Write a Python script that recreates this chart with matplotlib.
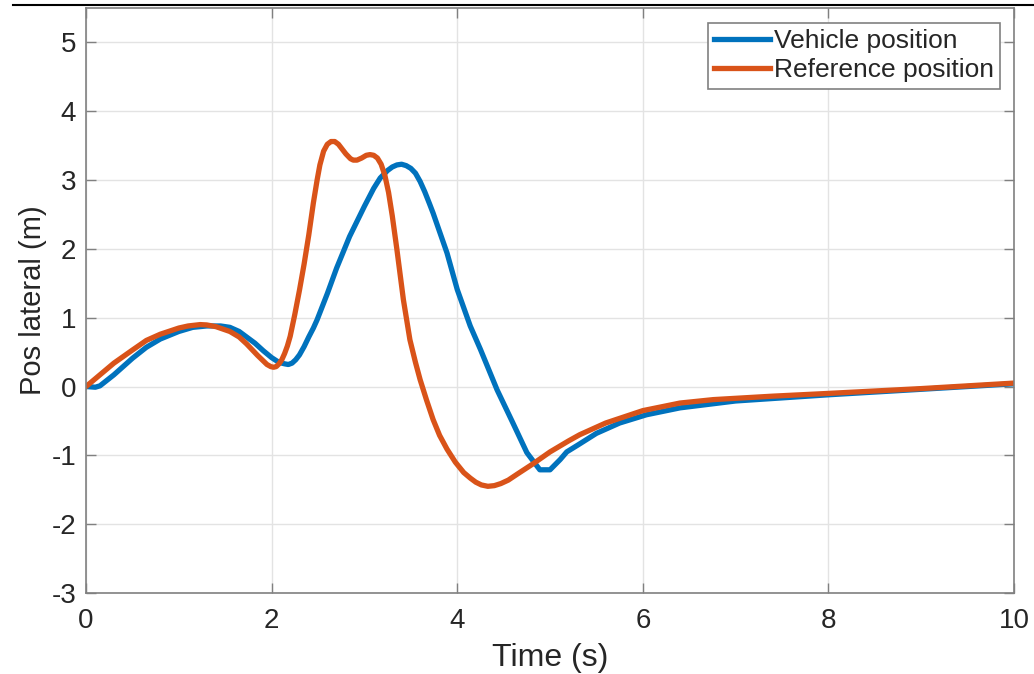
import matplotlib
matplotlib.use("Agg")
import matplotlib.pyplot as plt
from matplotlib.lines import Line2D

plt.rcParams["font.family"] = ["Liberation Sans", "DejaVu Sans"]
plt.rcParams["axes.unicode_minus"] = False

# vehicle lateral position (blue)
t_vehicle = [0.0, 0.1, 0.15, 0.3, 0.5, 0.65, 0.8, 1.0, 1.15, 1.3, 1.45, 1.55, 1.65,
             1.73, 1.82, 1.91, 2.0, 2.08, 2.14, 2.18, 2.22, 2.26, 2.3, 2.35, 2.4, 2.45,
             2.49, 2.6, 2.7, 2.84, 3.0, 3.1, 3.17, 3.25, 3.3, 3.35, 3.4, 3.45, 3.5, 3.55,
             3.6, 3.65, 3.7, 3.74, 3.89, 4.0, 4.14, 4.25, 4.43, 4.6, 4.75, 4.89, 5.0,
             5.11, 5.18, 5.3, 5.5, 5.75, 6.04, 6.4, 7.0, 8.0, 9.0, 10.0]
y_vehicle = [0.0, -0.01, 0.01, 0.17, 0.41, 0.57, 0.69, 0.80, 0.86, 0.88, 0.88, 0.86, 0.80,
             0.72, 0.63, 0.52, 0.42, 0.35, 0.33, 0.32, 0.34, 0.39, 0.46, 0.58, 0.72, 0.85,
             0.97, 1.35, 1.72, 2.18, 2.62, 2.88, 3.03, 3.14, 3.19, 3.22, 3.23, 3.21, 3.17,
             3.10, 2.98, 2.83, 2.66, 2.52, 1.94, 1.41, 0.88, 0.54, -0.05, -0.53, -0.96,
             -1.21, -1.21, -1.06, -0.95, -0.85, -0.68, -0.53, -0.41, -0.31, -0.21, -0.12,
             -0.04, 0.04]

# reference lateral position (orange)
t_ref = [0.0, 0.15, 0.3, 0.5, 0.65, 0.8, 1.0, 1.1, 1.23, 1.3, 1.4, 1.55, 1.65, 1.73, 1.85,
         1.95, 1.99, 2.02, 2.05, 2.08, 2.11, 2.14, 2.17, 2.2, 2.25, 2.3, 2.35, 2.4, 2.45,
         2.49, 2.52, 2.56, 2.6, 2.64, 2.68, 2.72, 2.76, 2.8, 2.85, 2.88, 2.92, 2.97, 3.02,
         3.06, 3.1, 3.14, 3.18, 3.22, 3.26, 3.3, 3.35, 3.42, 3.49, 3.55, 3.6, 3.67, 3.74,
         3.81, 3.89, 3.98, 4.07, 4.14, 4.2, 4.26, 4.33, 4.4, 4.47, 4.55, 4.65, 4.82, 5.0,
         5.2, 5.32, 5.6, 6.0, 6.4, 6.76, 7.4, 8.0, 9.0, 10.0]
y_ref = [0.0, 0.17, 0.34, 0.53, 0.67, 0.76, 0.85, 0.88, 0.90, 0.895, 0.87, 0.80, 0.72,
         0.62, 0.45, 0.32, 0.29, 0.28, 0.29, 0.33, 0.39, 0.48, 0.59, 0.73, 1.05, 1.40, 1.78,
         2.20, 2.67, 3.00, 3.22, 3.42, 3.52, 3.56, 3.56, 3.52, 3.45, 3.38, 3.31, 3.29, 3.29,
         3.32, 3.36, 3.37, 3.36, 3.32, 3.23, 3.07, 2.82, 2.48, 1.99, 1.26, 0.68, 0.35, 0.10,
         -0.20, -0.48, -0.71, -0.91, -1.10, -1.25, -1.33, -1.39, -1.43, -1.45, -1.44, -1.41,
         -1.36, -1.27, -1.12, -0.95, -0.79, -0.70, -0.53, -0.35, -0.24, -0.19, -0.14, -0.10,
         -0.03, 0.05]

x_ticks = [0, 2, 4, 6, 8, 10]
y_ticks = [-3, -2, -1, 0, 1, 2, 3, 4, 5]

fig = plt.figure(figsize=(10.34, 6.74), dpi=100)
ax = fig.add_axes([0.0832, 0.1202, 0.8975, 0.8679])

ax.plot(t_vehicle, y_vehicle, color="#0072BD", lw=3.8, label="Vehicle position",
        solid_joinstyle="round")
ax.plot(t_ref, y_ref, color="#D95319", lw=3.8, label="Reference position",
        solid_joinstyle="round")

ax.set_xlim(0, 10)
ax.set_ylim(-3, 5.5)
ax.set_xticks(x_ticks)
ax.set_yticks(y_ticks)
ax.grid(True, color="#e3e3e3", lw=1)
ax.set_axisbelow(True)

for s in ax.spines.values():
    s.set_color("#808080")
    s.set_linewidth(1.2)
ax.tick_params(direction="in", length=7, width=1, color="#808080",
               top=True, right=True, labelsize=20, labelcolor="#262626")
ax.tick_params(axis="x", pad=11)
ax.tick_params(axis="y", pad=7)

ax.set_xlabel("Time (s)", fontsize=23, color="#262626", labelpad=6)
ax.set_ylabel("Pos lateral (m)", fontsize=21, color="#262626", labelpad=3)

leg = ax.legend(loc="upper right", bbox_to_anchor=(0.985, 0.975), fontsize=19,
                fancybox=False, edgecolor="#808080", framealpha=1,
                handlelength=2.1, handletextpad=0.15, borderpad=0.25,
                labelspacing=0.18, borderaxespad=0)
leg.get_frame().set_linewidth(1.2)
for txt in leg.get_texts():
    txt.set_color("#262626")

# black rule across the top of the picture
fig.add_artist(Line2D([13 / 1034, 1.0], [1 - 5 / 674, 1 - 5 / 674],
                      transform=fig.transFigure, color="black", lw=1.5))

fig.savefig("out.png", dpi=100)
